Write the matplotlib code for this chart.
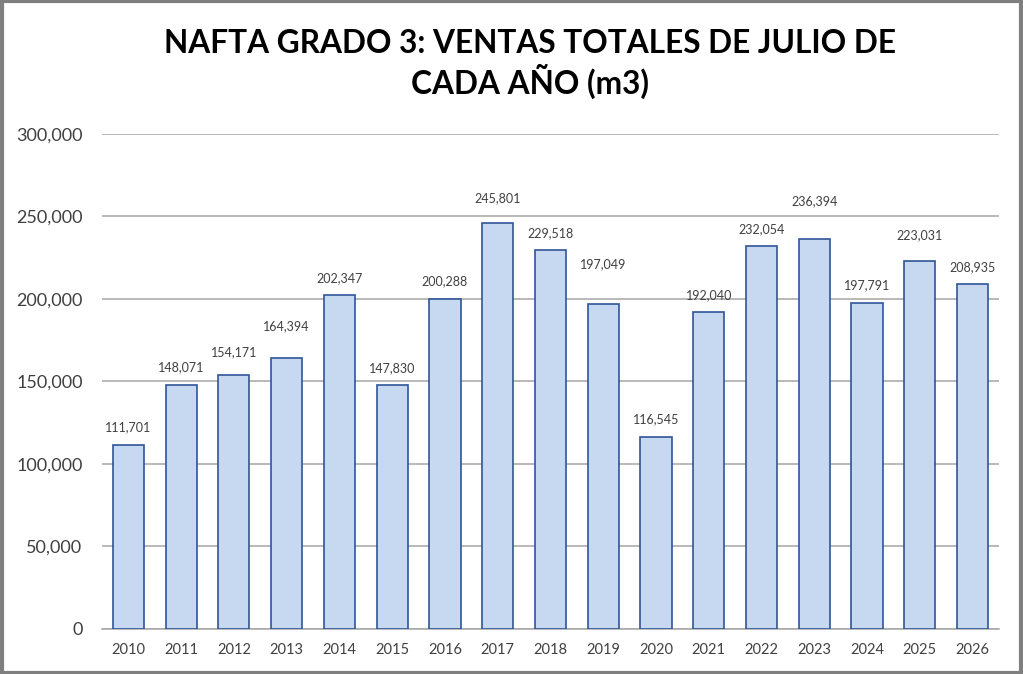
import matplotlib.pyplot as plt
from matplotlib.patches import Rectangle

# data
years = ["2010", "2011", "2012", "2013", "2014", "2015", "2016", "2017", "2018",
         "2019", "2020", "2021", "2022", "2023", "2024", "2025", "2026"]
ventas = [111701, 148071, 154171, 164394, 202347, 147830, 200288, 245801, 229518,
          197049, 116545, 192040, 232054, 236394, 197791, 223031, 208935]
# extra lift (points) of some value labels, as they sit in the original
label_lift = [0, 0, 4, 10, 0, 0, 0, 6, 0, 16, 0, 0, 0, 15, 0, 6, 0]

title = "NAFTA GRADO 3: VENTAS TOTALES DE JULIO DE\nCADA AÑO (m3)"

plt.rcParams['font.family'] = ['Lato', 'DejaVu Sans']

fig = plt.figure(figsize=(10.23, 6.74), dpi=100)
ax = fig.add_axes([0.0997, 0.0668, 0.8768, 0.7344])

x = range(len(years))
bars = ax.bar(x, ventas, width=0.59, color="#C6D9F1", edgecolor="#2F5597", linewidth=1.2, zorder=3)

for i, b in enumerate(bars):
    ax.annotate(f"{ventas[i]:,}", (b.get_x() + b.get_width() / 2, b.get_height()),
                xytext=(0, 12.5 + label_lift[i]), textcoords="offset points",
                ha="center", va="center", fontsize=9, color="#404040")

ax.set_xlim(-0.5, len(years) - 0.5)
ax.set_ylim(0, 300000)
ax.set_yticks(range(0, 300001, 50000))
ax.set_yticklabels([f"{v:,}" for v in range(0, 300001, 50000)], fontsize=13, color="#404040")
ax.set_xticks(list(x))
ax.set_xticklabels(years, fontsize=10.5, color="#404040")
ax.tick_params(axis="both", length=0)
ax.tick_params(axis="y", pad=14)
ax.tick_params(axis="x", pad=10)

ax.grid(axis="y", color="#A6A6A6", linewidth=1.1, zorder=0)
for s in ["top", "right", "left"]:
    ax.spines[s].set_visible(False)
ax.spines["bottom"].set_color("#A6A6A6")
ax.spines["bottom"].set_linewidth(1.1)

fig.text(0.518, 0.905, title, ha="center", va="center", fontsize=22.8, fontweight="bold",
         color="black", linespacing=1.22)

# grey frame round the chart
fig.patches.append(Rectangle((0.0015, 0.002), 0.997, 0.996, transform=fig.transFigure,
                             fill=False, edgecolor="#7F7F7F", linewidth=3))

fig.savefig("out.png", dpi=100)
